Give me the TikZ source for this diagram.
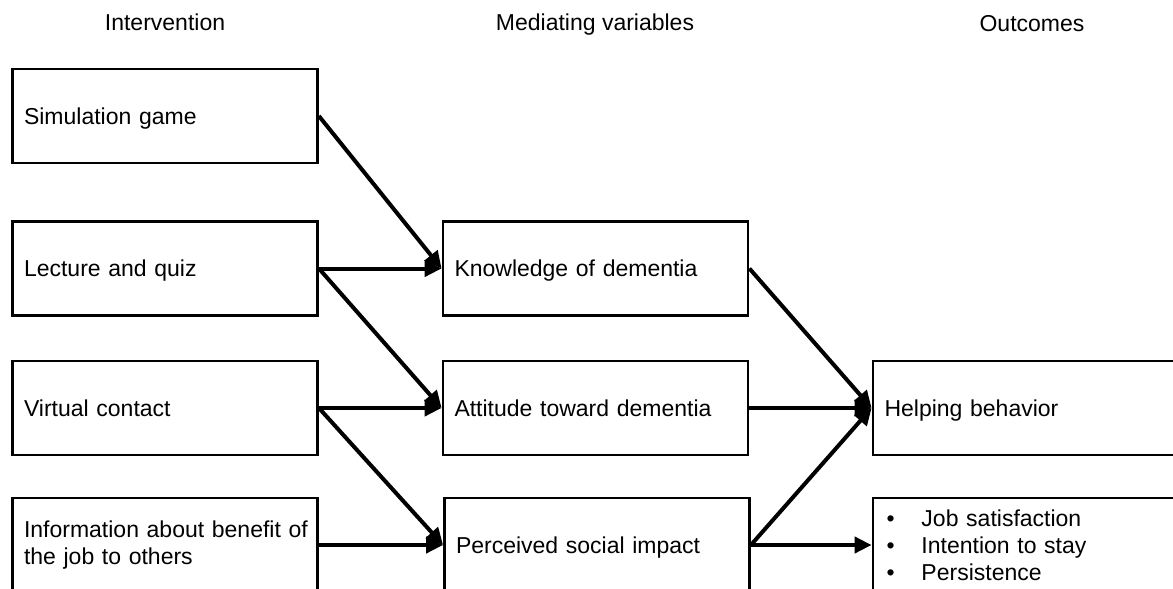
\documentclass[tikz,border=0pt]{standalone}
\usepackage{fontspec}
\setmainfont{Liberation Sans}
\usetikzlibrary{arrows.meta}
\begin{document}
\begin{tikzpicture}[x=1pt,y=-1pt,
  box/.style={draw, line width=2.8pt, minimum height=94pt, text width=282pt,
    inner xsep=11.5pt, inner ysep=0pt, align=left,
    font=\fontsize{23}{27}\selectfont},
  single/.style={box, text depth=0pt},
  multi/.style={box},
  head/.style={font=\fontsize{23}{27}\selectfont, inner sep=0pt, anchor=base},
  conn/.style={line width=4pt, -{Triangle[length=17pt,width=16pt]}}]
\useasboundingbox (0,0) rectangle (1173,589);
\clip (0,0) rectangle (1173,589);
\fill[white] (0,0) rectangle (1173,589);
% headings
\node[head] (h1) at (165,30) {Intervention};
\node[head] (h2) at (595,30) {Mediating variables};
\node[head] (h3) at (1032,31) {Outcomes};
% left column
\node[single] (sim) at (165,116) {Simulation game};
\node[single] (lec) at (165,268.5) {Lecture and quiz};
\node[single] (vir) at (165,408) {Virtual contact};
\node[multi] (inf) at (165,545) {\mbox{Information about benefit of}\\\mbox{the job to others}};
% middle column
\node[single] (kno) at (595.5,268.5) {Knowledge of dementia};
\node[single] (att) at (595.5,408) {Attitude toward dementia};
\node[single] (per) at (597,545) {Perceived social impact};
% right column
\node[single] (hel) at (1025.5,408) {Helping behavior};
\node[multi] (job) at (1025.5,545) {\makebox[37pt][l]{\hspace{2pt}\textbullet}Job satisfaction\\
  \makebox[37pt][l]{\hspace{2pt}\textbullet}Intention to stay\\
  \makebox[37pt][l]{\hspace{2pt}\textbullet}Persistence};
% connectors
\draw[conn] (sim.east) -- (kno.west);
\draw[conn] (lec.east) -- (kno.west);
\draw[conn] (lec.east) -- (att.west);
\draw[conn] (vir.east) -- (att.west);
\draw[conn] (vir.east) -- (per.west);
\draw[conn] (inf.east) -- (per.west);
\draw[conn] (kno.east) -- (hel.west);
\draw[conn] (att.east) -- (hel.west);
\draw[conn] (per.east) -- (hel.west);
\draw[conn] (per.east) -- (job.west);
\end{tikzpicture}
\end{document}
